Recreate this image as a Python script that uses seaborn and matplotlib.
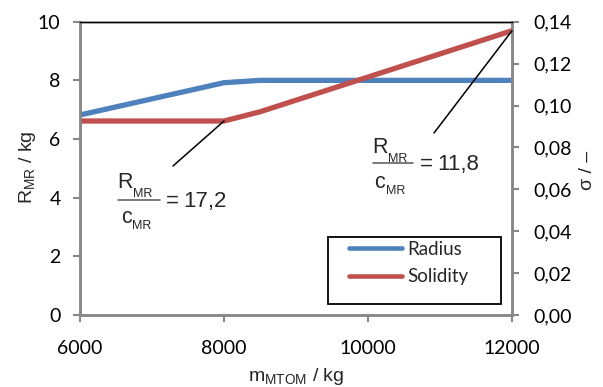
import matplotlib
matplotlib.use("Agg")
import matplotlib.pyplot as plt
from matplotlib.patches import Rectangle
import seaborn as sns
import pandas as pd

# ---- data ----
mass_kg = [6000, 8000, 8500, 12000]
radius_m = [6.82, 7.92, 8.0, 8.0]
solidity = [0.0926, 0.0926, 0.0970, 0.1357]
x_ticks = [6000, 8000, 10000, 12000]
left_ticks = [0, 2, 4, 6, 8, 10]
right_ticks = [0.0, 0.02, 0.04, 0.06, 0.08, 0.10, 0.12, 0.14]
ratio_low = "17,2"
ratio_high = "11,8"

sns.set_style("white")
plt.rcParams['font.family'] = ['Liberation Sans', 'DejaVu Sans']
plt.rcParams['mathtext.fontset'] = 'custom'
plt.rcParams['mathtext.rm'] = 'Liberation Sans'
plt.rcParams['mathtext.it'] = 'Liberation Sans'

BLUE = "#4F81BD"
RED = "#C0504D"
GRAY = "#878787"
TICKFONT = ['Lato', 'DejaVu Sans']
TFS = 14

df = pd.DataFrame({"m": mass_kg, "R": radius_m, "s": solidity})

W, H = 603, 387
AX_L, AX_R, AX_T, AX_B = 80, 512, 21.7, 315
fig = plt.figure(figsize=(W / 100, H / 100), dpi=100)
ax = fig.add_axes([AX_L / W, 1 - AX_B / H, (AX_R - AX_L) / W, (AX_B - AX_T) / H])
ax2 = ax.twinx()


def axf(px, py):
    """pixel position in the figure -> axes fraction"""
    return ((px - AX_L) / (AX_R - AX_L), (AX_B - py) / (AX_B - AX_T))


sns.lineplot(data=df, x="m", y="R", ax=ax, color=BLUE, lw=3.8, label="Radius", legend=False)
sns.lineplot(data=df, x="m", y="s", ax=ax2, color=RED, lw=3.8, label="Solidity", legend=False)

ax.set_xlim(6000, 12000)
ax.set_ylim(0, 10)
ax2.set_ylim(0, 0.14)
ax.set_xticks(x_ticks)
ax.set_xticklabels([str(v) for v in x_ticks], fontsize=TFS, family=TICKFONT)
ax.set_yticks(left_ticks)
ax.set_yticklabels([str(v) for v in left_ticks], fontsize=TFS, family=TICKFONT)
ax2.set_yticks(right_ticks)
ax2.set_yticklabels([f"{v:.2f}".replace(".", ",") for v in right_ticks], fontsize=TFS, family=TICKFONT)

for a in (ax, ax2):
    for s in ("left", "right", "bottom"):
        a.spines[s].set_color(GRAY)
        a.spines[s].set_linewidth(1.8)
    a.spines["top"].set_color("black")
    a.spines["top"].set_linewidth(1.0)
    a.tick_params(axis="both", which="both", direction="out", length=5, width=1.5,
                  color=GRAY, labelcolor="black")
ax.tick_params(axis="x", bottom=True, pad=13)
ax.tick_params(axis="y", left=True, pad=9)
ax2.tick_params(axis="y", right=True, pad=10.5)

ax.set_xlabel(r"$\mathregular{m_{MTOM}}$ / kg", fontsize=14)
ax.xaxis.set_label_coords(0.5, axf(0, 366)[1])
ax.set_ylabel(r"$\mathregular{R_{MR}}$ / kg", fontsize=14)
ax.yaxis.set_label_coords(axf(38, 0)[0], axf(0, 167)[1])
ax2.set_ylabel("σ / –", fontsize=14, rotation=90)
ax2.yaxis.set_label_coords(axf(579, 0)[0], axf(0, 170)[1])


# ---- fraction annotations ----
def sub_text(px, py, main, sub, fs=15.5, subfs=9, drop=4.0):
    x, y = axf(px, py)
    t = ax.text(x, y, main, transform=ax.transAxes, fontsize=fs, ha="left", va="baseline")
    ax.annotate(sub, xy=(1, 0), xycoords=t, xytext=(0.3, -drop), textcoords="offset pixels",
                fontsize=subfs, ha="left", va="baseline")


def fraction(num_px, num_py, bar_x0, bar_x1, bar_y, den_px, den_py, eq_px, val_px, val_py, value):
    sub_text(num_px, num_py, "R", "MR", drop=3.9)
    sub_text(den_px, den_py, "c", "MR", drop=0.6)
    (x0, yb), (x1, _) = axf(bar_x0, bar_y), axf(bar_x1, bar_y)
    ax.plot([x0, x1], [yb, yb], transform=ax.transAxes, color="#555555", lw=1.1)
    ex, ey = axf(eq_px, val_py)
    ax.text(ex, ey, "=", transform=ax.transAxes, fontsize=16, ha="left", va="baseline")
    vx, vy = axf(val_px, val_py)
    ax.text(vx, vy, value, transform=ax.transAxes, fontsize=16, ha="left", va="baseline")


fraction(117.5, 188.3, 118, 160, 200, 121, 223, 166, 183, 206.7, ratio_low)
fraction(372.5, 153.3, 372.5, 413, 163.3, 374.5, 188.3, 420, 437, 170, ratio_high)

# leader lines from the solidity curve to the labels
ax2.annotate("", xy=(mass_kg[1], solidity[1]), xycoords="data",
             xytext=axf(173, 166), textcoords="axes fraction",
             arrowprops=dict(arrowstyle="-", lw=1.1, color="black", shrinkA=0, shrinkB=0))
ax2.annotate("", xy=(mass_kg[-1], solidity[-1]), xycoords="data",
             xytext=axf(434, 133), textcoords="axes fraction",
             arrowprops=dict(arrowstyle="-", lw=1.1, color="black", shrinkA=0, shrinkB=0))

# ---- legend ----
h1, l1 = ax.get_legend_handles_labels()
h2, l2 = ax2.get_legend_handles_labels()
leg = ax2.legend(h1 + h2, l1 + l2, loc="upper left", bbox_to_anchor=axf(349, 241),
                 prop={"family": TICKFONT, "size": 13.5}, frameon=False,
                 handlelength=2.85, borderpad=0, borderaxespad=0,
                 labelspacing=0.55, handletextpad=0.25)
for line in leg.get_lines():
    line.set_linewidth(3.3)
    line.set_solid_capstyle("round")
fx0, fy0 = axf(328, 304)
fx1, fy1 = axf(501, 237)
ax2.add_patch(Rectangle((fx0, fy0), fx1 - fx0, fy1 - fy0, transform=ax2.transAxes,
                        fill=False, edgecolor="black", lw=1.3, zorder=5))

fig.savefig("out.png", dpi=100)
